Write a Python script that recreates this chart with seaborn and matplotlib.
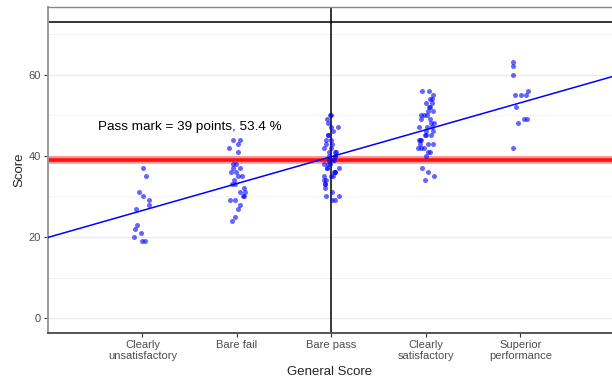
import numpy as np
import pandas as pd
import matplotlib
matplotlib.use("Agg")
import matplotlib.pyplot as plt
import seaborn as sns
from matplotlib.ticker import MultipleLocator

categories = ["Clearly\nunsatisfactory", "Bare fail", "Bare pass",
              "Clearly\nsatisfactory", "Superior\nperformance"]
clearly_unsat = [37, 35, 31, 30, 29, 28, 27, 23, 22, 21, 20, 19, 19]
bare_fail = [44, 44, 43, 42, 41, 38, 38, 37, 37, 36, 36, 35, 35, 34, 33, 33,
             32, 31, 31, 30, 30, 29, 29, 28, 27, 25, 24]
bare_pass = [50, 50, 49, 48, 47, 47, 46, 45, 45, 44, 44, 43, 43, 42, 42, 41,
             41, 41, 40, 40, 40, 39, 39, 39, 38, 38, 38, 37, 37, 37, 36, 36,
             36, 35, 35, 35, 34, 34, 33, 33, 32, 31, 30, 30, 29, 29]
clearly_sat = [56, 56, 55, 54, 54, 53, 53, 52, 52, 51, 51, 50, 50, 50, 49, 49,
               48, 48, 47, 47, 47, 46, 46, 45, 45, 45, 44, 44, 44, 43, 43, 43,
               42, 42, 42, 41, 41, 40, 37, 36, 35, 34]
superior = [63, 62, 60, 56, 55, 55, 55, 52, 49, 49, 48, 42]
pass_mark = 39
max_score = 73
pass_label = "Pass mark = 39 points, 53.4 %"

groups = [clearly_unsat, bare_fail, bare_pass, clearly_sat, superior]
df = pd.DataFrame({
    "cat": [c for c, g in zip(categories, groups) for _ in g],
    "code": [i for i, g in enumerate(groups) for _ in g],
    "score": [v for g in groups for v in g],
})

sns.set_theme(style="white")
plt.rcParams["font.family"] = ["Liberation Sans", "DejaVu Sans"]
np.random.seed(3)

fig = plt.figure(figsize=(6.12, 3.80), dpi=100)
ax = fig.add_axes([48 / 612, 1 - 333 / 380, 1 - 48 / 612, (333 - 7) / 380])

ax.set_ylim(-3.65, 76.65)
ax.yaxis.set_major_locator(MultipleLocator(20))
ax.yaxis.set_minor_locator(MultipleLocator(10))
ax.grid(True, which="major", color="#ebebeb", lw=1.0, zorder=0)
ax.grid(True, which="minor", axis="y", color="#f3f3f3", lw=0.7, zorder=0)
ax.set_axisbelow(True)

ax.axhline(pass_mark, color="red", lw=5.5, alpha=0.4, zorder=2)
ax.axhline(pass_mark, color="red", lw=2.6, alpha=0.9, zorder=2)
ax.axhline(max_score, color="black", lw=1.1, zorder=2)
ax.axvline(2, color="black", lw=1.1, zorder=2)

sns.stripplot(data=df, x="cat", y="score", order=categories, ax=ax,
              jitter=0.09, color="blue", alpha=0.6, size=3.6, linewidth=0,
              zorder=3)
ax.set_xlim(-1.0, 4.97)
sns.regplot(data=df, x="code", y="score", ax=ax, scatter=False, ci=None,
            truncate=False, color="blue", line_kws=dict(lw=1.1, zorder=4))
ax.set_xlim(-1.0, 4.97)
ax.set_ylim(-3.65, 76.65)

ax.text(0.5, 47.2, pass_label, ha="center", va="center", fontsize=9.7,
        color="black")

ax.set_xticks(range(len(categories)))
ax.set_xticklabels(categories, fontsize=8, color="#4d4d4d", linespacing=1.1)
ax.tick_params(axis="y", labelsize=8, labelcolor="#4d4d4d")
ax.tick_params(axis="both", which="major", length=3, width=0.8,
               color="#333333", pad=2, bottom=True, left=True)
ax.tick_params(axis="y", which="minor", length=0)
ax.set_xlabel("General Score", fontsize=9.5, labelpad=4)
ax.set_ylabel("Score", fontsize=9.5, labelpad=2)

ax.spines["right"].set_visible(False)
ax.spines["top"].set_color("#888888")
ax.spines["top"].set_linewidth(1.0)
ax.spines["left"].set_color("#999999")
ax.spines["left"].set_linewidth(1.4)
ax.spines["bottom"].set_color("#555555")
ax.spines["bottom"].set_linewidth(1.4)

fig.savefig("out.png", dpi=100)
